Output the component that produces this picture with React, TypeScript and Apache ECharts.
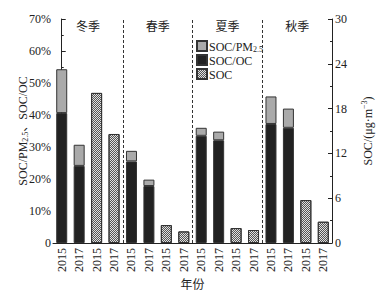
import React, { useEffect, useRef } from "react";
import * as echarts from "echarts";

const categories = [
  "2015", "2017", "2015", "2017",
  "2015", "2017", "2015", "2017",
  "2015", "2017", "2015", "2017",
  "2015", "2017", "2015", "2017",
];
const seasons = ["冬季", "春季", "夏季", "秋季"];
const seasonBounds = [3.5, 7.5, 11.5];
// SOC/OC (%) – black, bottom of stack
const socOc: (number | string)[] = [40.6, 24.1, "-", "-", 25.5, 17.8, "-", "-", 33.5, 32.1, "-", "-", 37.2, 36.0, "-", "-"];
// SOC/PM2.5 (%) – grey, stacked on top
const socPm: (number | string)[] = [13.7, 6.6, "-", "-", 3.3, 2.0, "-", "-", 2.5, 2.7, "-", "-", 8.6, 6.0, "-", "-"];
// SOC (µg·m-3) – checkered, right axis
const soc: (number | string)[] = ["-", "-", 20.1, 14.6, "-", "-", 2.4, 1.55, "-", "-", 2.0, 1.74, "-", "-", 5.75, 2.85];
const leftTicks = { min: 0, max: 70, interval: 10 };
const rightTicks = { min: 0, max: 30, interval: 6 };

const FONT = "'Liberation Serif', 'Noto Sans CJK SC', serif";
const INK = "#222";

export default function App() {
  const ref = useRef<HTMLDivElement>(null);
  useEffect(() => {
    document.body.style.margin = "0";
    if (!ref.current) return;
    const chart = echarts.init(ref.current, undefined, { renderer: "svg" });
    const rich = {
      b: { fontSize: 12, fontFamily: FONT, color: INK, verticalAlign: "bottom", lineHeight: 14 },
      sub: { fontSize: 8, fontFamily: FONT, color: INK, verticalAlign: "bottom", lineHeight: 6 },
      sup: { fontSize: 8, fontFamily: FONT, color: INK, verticalAlign: "top", lineHeight: 6 },
    };
    const checker = {
      symbol: "rect",
      symbolSize: 1,
      color: "#555",
      dashArrayX: [[1, 1], [0, 1, 1, 0]],
      dashArrayY: [1, 0],
      rotation: 0,
    };
    const barCommon = { barWidth: 11, barGap: "-100%" };
    chart.setOption({
      animation: false,
      textStyle: { fontFamily: FONT, color: INK },
      grid: { left: 53, right: 57, top: 19, bottom: 55, outerBoundsMode: "none" },
      legend: {
        data: ["SOC/PM2.5", "SOC/OC", "SOC"],
        orient: "vertical",
        icon: "rect",
        left: 191,
        top: 35,
        itemWidth: 10,
        itemHeight: 10,
        itemGap: 1,
        textStyle: { fontSize: 12, fontFamily: FONT, color: INK, padding: [0, 0, 0, -3], rich },
        formatter: (n: string) => (n === "SOC/PM2.5" ? "{b|SOC/PM}{sub|2.5}" : "{b|" + n + "}"),
      },
      xAxis: [
        {
          type: "category",
          data: categories,
          axisLine: { lineStyle: { color: INK } },
          axisTick: { show: false },
          axisLabel: { rotate: 90, fontSize: 12, color: INK, fontFamily: FONT, margin: 5, interval: 0 },
          name: "年份",
          nameLocation: "middle",
          nameGap: 36,
          nameMoveOverlap: false,
          nameTextStyle: { fontSize: 12, color: INK, fontFamily: FONT },
        },
        {
          type: "category",
          data: seasons,
          position: "top",
          axisLine: { show: false },
          axisTick: { show: false },
          axisLabel: { inside: true, margin: 2, fontSize: 12, color: INK, fontFamily: FONT },
        },
        { type: "value", min: -0.5, max: 15.5, show: false },
      ],
      yAxis: [
        {
          type: "value",
          ...leftTicks,
          axisLine: { show: true, lineStyle: { color: INK } },
          axisTick: { show: true, inside: true, length: 4, lineStyle: { color: INK } },
          minorTick: { show: true, splitNumber: 2, length: 2, lineStyle: { color: INK } },
          splitLine: { show: false },
          axisLabel: { fontSize: 12, color: INK, fontFamily: FONT, margin: 2, formatter: (v: number) => (v === 0 ? "0" : v + "%") },
          name: "{b|SOC/PM}{sub|2.5}{b|、SOC/OC}",
          nameLocation: "middle",
          nameRotate: 90,
          nameGap: 24,
          nameMoveOverlap: false,
          nameTextStyle: { fontSize: 12, color: INK, fontFamily: FONT, rich },
        },
        {
          type: "value",
          ...rightTicks,
          position: "right",
          axisLine: { show: true, lineStyle: { color: INK } },
          axisTick: { show: true, inside: true, length: 4, lineStyle: { color: INK } },
          minorTick: { show: true, splitNumber: 2, length: 2, lineStyle: { color: INK } },
          splitLine: { show: false },
          axisLabel: { fontSize: 12, color: INK, fontFamily: FONT, margin: 3 },
          name: "{b|SOC/(μg·m}{sup|−3}{b|)}",
          nameLocation: "middle",
          nameRotate: 90,
          nameGap: 28,
          nameMoveOverlap: false,
          nameTextStyle: { fontSize: 12, color: INK, fontFamily: FONT, rich },
        },
      ],
      series: [
        {
          name: "SOC/OC",
          type: "bar",
          stack: "ratio",
          data: socOc,
          ...barCommon,
          itemStyle: { color: "#222", borderColor: "#333", borderWidth: 1 },
        },
        {
          name: "SOC/PM2.5",
          type: "bar",
          stack: "ratio",
          data: socPm,
          ...barCommon,
          itemStyle: { color: "#aaaaaa", borderColor: "#333", borderWidth: 1 },
        },
        {
          name: "SOC",
          type: "bar",
          yAxisIndex: 1,
          data: soc,
          ...barCommon,
          itemStyle: { color: "#e0e0e0", borderColor: "#333", borderWidth: 1, decal: checker },
        },
        {
          name: "bounds",
          type: "line",
          xAxisIndex: 2,
          yAxisIndex: 0,
          data: [],
          markLine: {
            silent: true,
            symbol: "none",
            label: { show: false },
            lineStyle: { color: "#333", width: 1, type: [3, 2] },
            data: seasonBounds.map((b) => ({ xAxis: b })),
          },
        },
      ],
    });
    return () => chart.dispose();
  }, []);
  return <div ref={ref} style={{ width: 389, height: 298 }} />;
}
